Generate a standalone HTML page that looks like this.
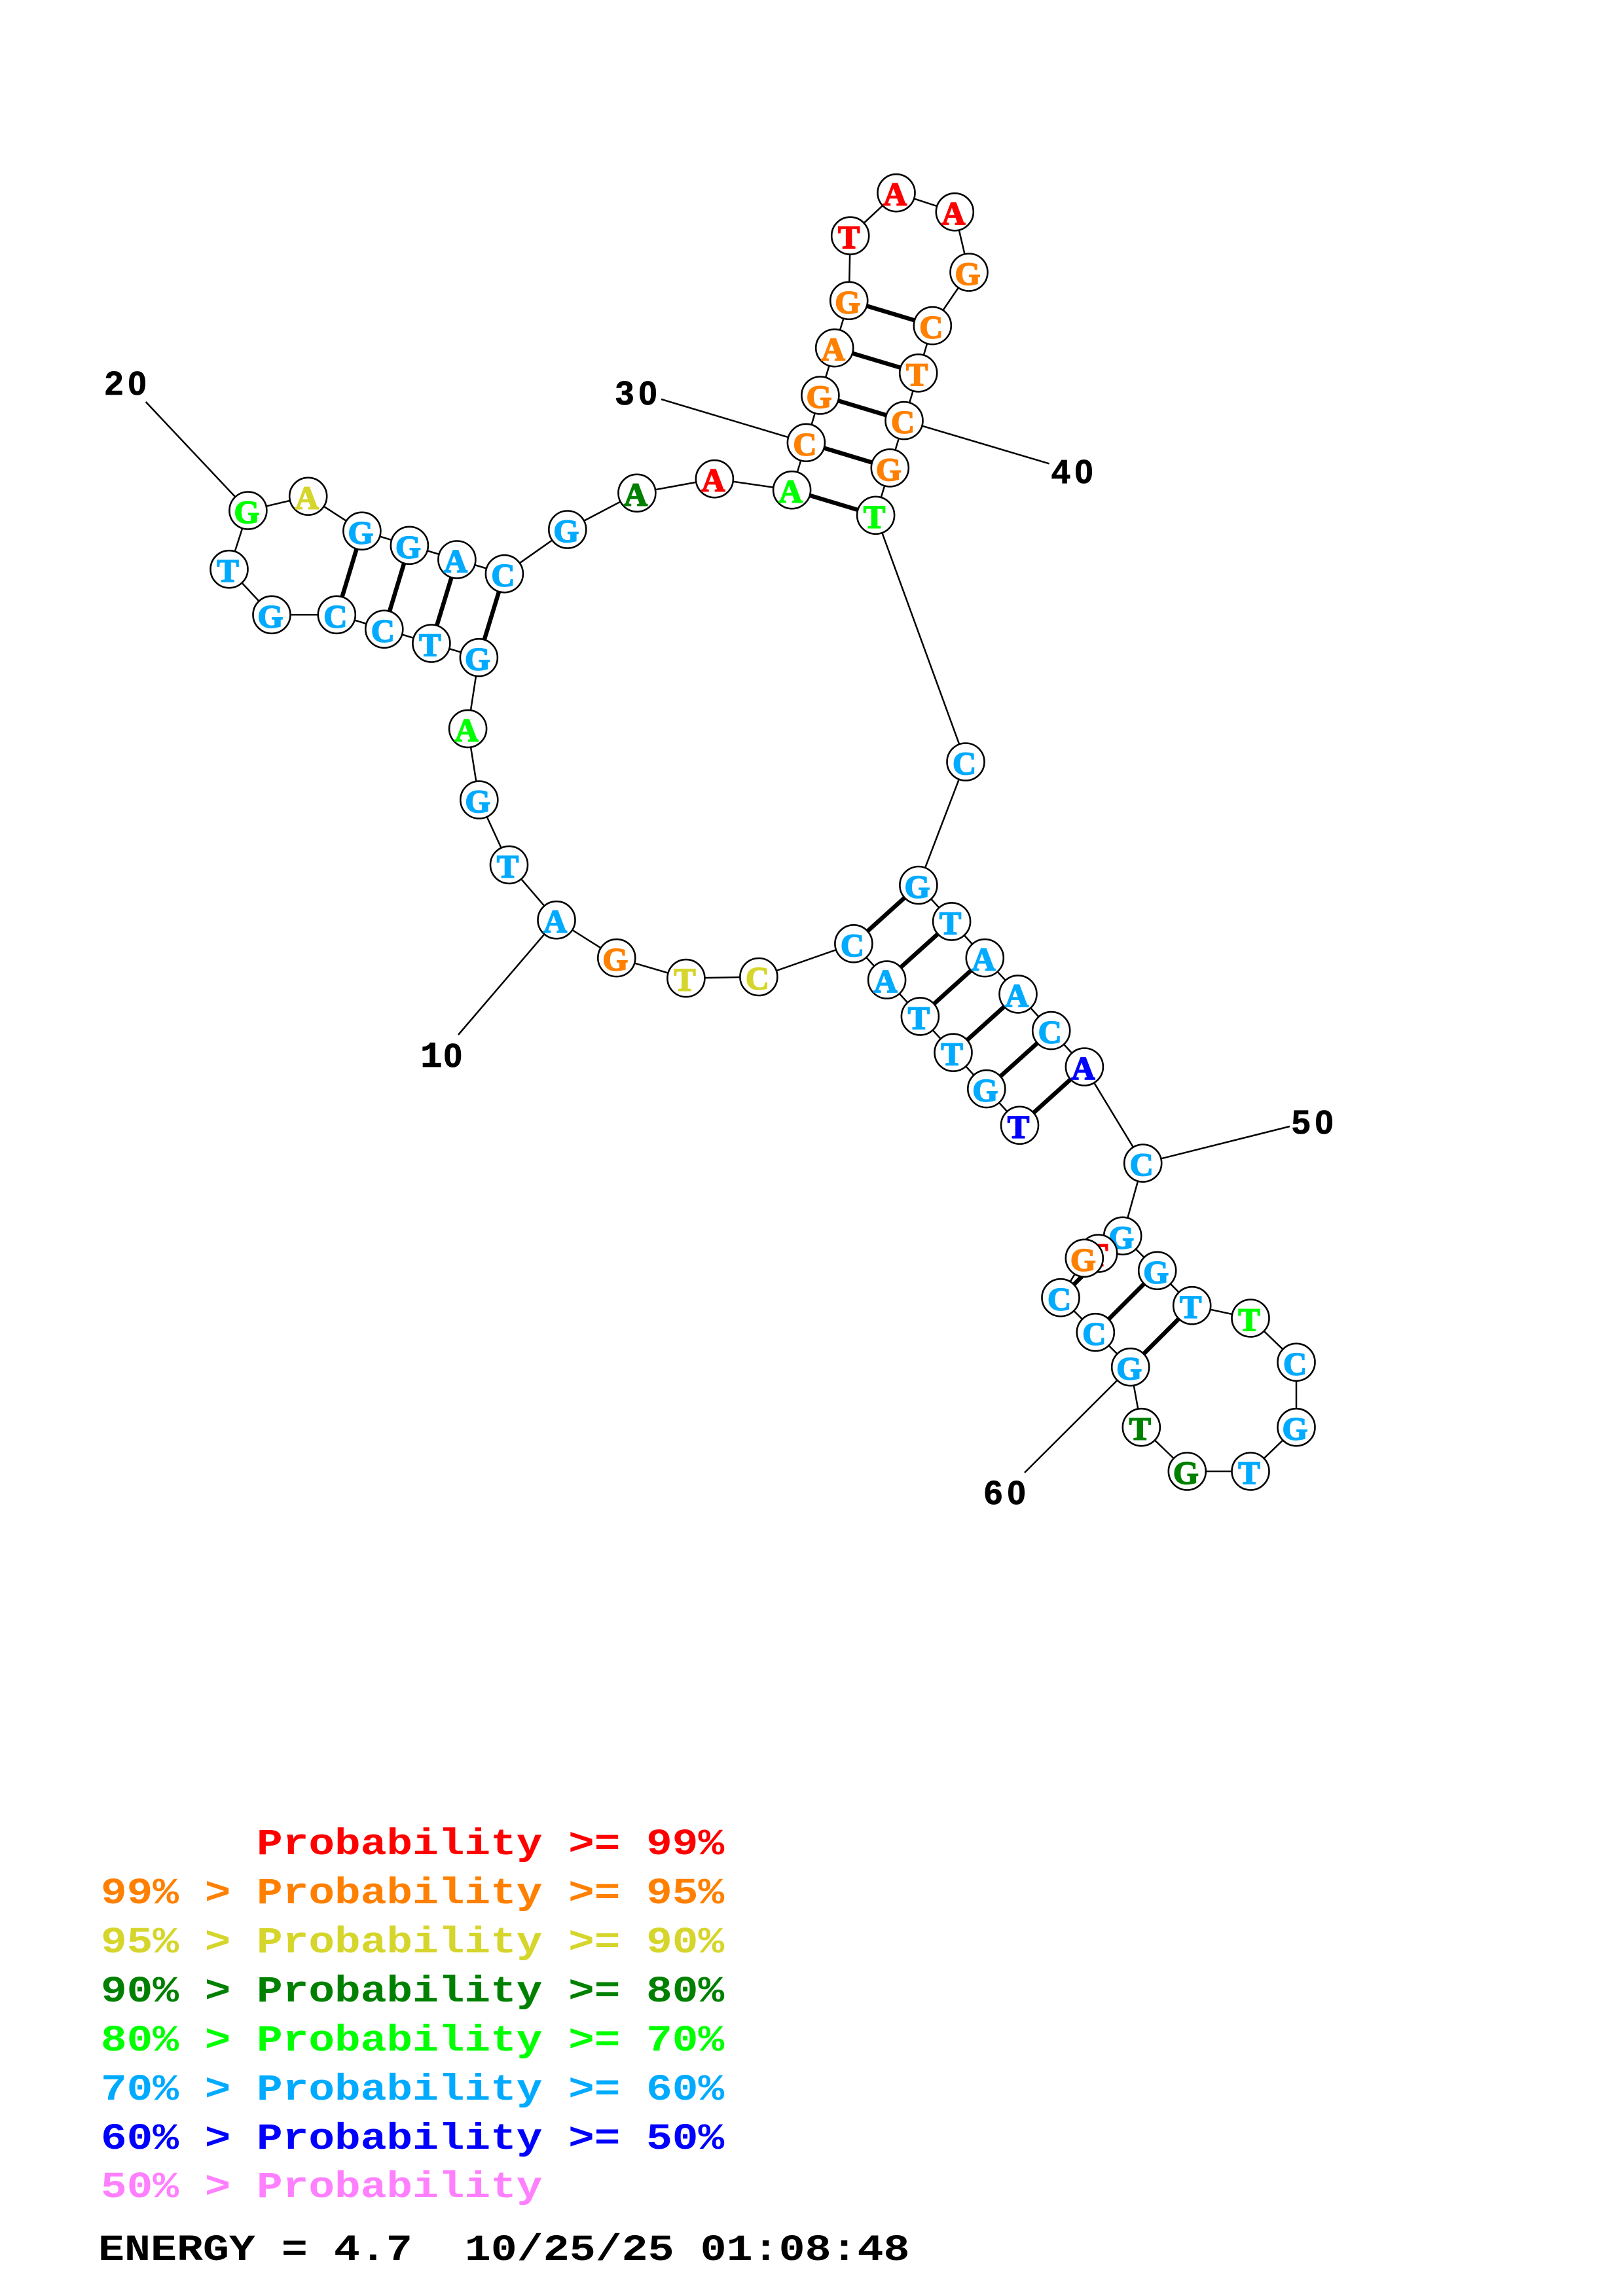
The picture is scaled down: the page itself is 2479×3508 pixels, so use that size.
<!DOCTYPE html>
<html><head><meta charset="utf-8"><style>
html,body{margin:0;padding:0;background:#fff}
svg{display:block}
.n circle{fill:#fff;stroke:#000;stroke-width:2.6}
.n text{font-family:"Liberation Serif",serif;font-weight:bold;font-size:50px;text-anchor:middle;stroke-width:1.8;paint-order:stroke}
.lb{fill:#00aaff;stroke:#00aaff}.or{fill:#ff8000;stroke:#ff8000}.re{fill:#f00;stroke:#f00}.ye{fill:#d5d52b;stroke:#d5d52b}.dk{fill:#008000;stroke:#008000}.gr{fill:#0f0;stroke:#0f0}.bl{fill:#00f;stroke:#00f}
.l{font-family:"Liberation Sans",sans-serif;font-weight:bold;font-size:51px;letter-spacing:7px;fill:#000;stroke:#000;stroke-width:.8}
.m{font-family:"Liberation Mono",monospace;font-weight:bold;font-size:57px}
</style></head><body>
<svg xmlns="http://www.w3.org/2000/svg" width="2479" height="3508" viewBox="0 0 2479 3508">
<rect width="2479" height="3508" fill="#fff"/>
<g stroke="#000" stroke-width="2.5" fill="none">
<polyline points="1557.5,1719.3 1506.8,1663.6 1456,1608.2 1405.4,1552.9 1354.6,1497.1 1303.9,1441.8 1158.9,1492.5 1047.9,1494.6 941.8,1463.6 850,1405.7 777.5,1321.4 731.8,1222.1 714.6,1113.4 731.4,1004.7 658.9,983 586.8,961.3 514.3,939.3 415,939.3 350,869.7 378.9,780 470.7,758.3 552.9,811.3 625.4,833.3 697.9,855 770.4,876.7 866.8,809 972.9,753.3 1091.4,731.7 1209.6,748.7 1231.4,676.3 1252.9,604 1274.7,531.6 1296.7,459.3 1298.7,360.2 1369,294.7 1458.3,323.8 1480,416 1424.3,497.6 1402.7,569.9 1381,642.6 1359.3,714.9 1337.6,787.3 1475,1164 1402.9,1352.5 1453.6,1407.9 1504.3,1463.6 1555,1518.9 1605.7,1574.6 1656.4,1630 1745.7,1777.2 1714.7,1888.3 1767.7,1941.3 1820.7,1994.7 1910,2014 1980,2081.3 1980,2180.7 1910,2248 1813.3,2248 1743.3,2180.7 1726.7,2088.7 1673.3,2035.7 1620,1982.7 1656.3,1922.3 1677.7,1915"/>
<line x1="850" y1="1405.7" x2="700" y2="1581"/>
<line x1="378.9" y1="780" x2="222.7" y2="614"/>
<line x1="1231.4" y1="676.3" x2="1010" y2="610"/>
<line x1="1381" y1="642.6" x2="1602.7" y2="708.4"/>
<line x1="1745.7" y1="1777.2" x2="1970" y2="1721"/>
<line x1="1726.7" y1="2088.7" x2="1565" y2="2250"/>
</g>
<g stroke="#000" stroke-width="6.5">
<line x1="1557.5" y1="1719.3" x2="1656.4" y2="1630"/>
<line x1="1506.8" y1="1663.6" x2="1605.7" y2="1574.6"/>
<line x1="1456" y1="1608.2" x2="1555" y2="1518.9"/>
<line x1="1405.4" y1="1552.9" x2="1504.3" y2="1463.6"/>
<line x1="1354.6" y1="1497.1" x2="1453.6" y2="1407.9"/>
<line x1="1303.9" y1="1441.8" x2="1402.9" y2="1352.5"/>
<line x1="731.4" y1="1004.7" x2="770.4" y2="876.7"/>
<line x1="658.9" y1="983" x2="697.9" y2="855"/>
<line x1="586.8" y1="961.3" x2="625.4" y2="833.3"/>
<line x1="514.3" y1="939.3" x2="552.9" y2="811.3"/>
<line x1="1209.6" y1="748.7" x2="1337.6" y2="787.3"/>
<line x1="1231.4" y1="676.3" x2="1359.3" y2="714.9"/>
<line x1="1252.9" y1="604" x2="1381" y2="642.6"/>
<line x1="1274.7" y1="531.6" x2="1402.7" y2="569.9"/>
<line x1="1296.7" y1="459.3" x2="1424.3" y2="497.6"/>
<line x1="1714.7" y1="1888.3" x2="1620" y2="1982.7"/>
<line x1="1767.7" y1="1941.3" x2="1673.3" y2="2035.7"/>
<line x1="1820.7" y1="1994.7" x2="1726.7" y2="2088.7"/>
</g>
<g class="n">
<circle cx="1557.5" cy="1719.3" r="28.5"/><text x="1555.5" y="1738.3" class="bl">T</text>
<circle cx="1506.8" cy="1663.6" r="28.5"/><text x="1504.8" y="1682.6" class="lb">G</text>
<circle cx="1456" cy="1608.2" r="28.5"/><text x="1454" y="1627.2" class="lb">T</text>
<circle cx="1405.4" cy="1552.9" r="28.5"/><text x="1403.4" y="1571.9" class="lb">T</text>
<circle cx="1354.6" cy="1497.1" r="28.5"/><text x="1352.6" y="1516.1" class="lb">A</text>
<circle cx="1303.9" cy="1441.8" r="28.5"/><text x="1301.9" y="1460.8" class="lb">C</text>
<circle cx="1158.9" cy="1492.5" r="28.5"/><text x="1156.9" y="1511.5" class="ye">C</text>
<circle cx="1047.9" cy="1494.6" r="28.5"/><text x="1045.9" y="1513.6" class="ye">T</text>
<circle cx="941.8" cy="1463.6" r="28.5"/><text x="939.8" y="1482.6" class="or">G</text>
<circle cx="850" cy="1405.7" r="28.5"/><text x="848" y="1424.7" class="lb">A</text>
<circle cx="777.5" cy="1321.4" r="28.5"/><text x="775.5" y="1340.4" class="lb">T</text>
<circle cx="731.8" cy="1222.1" r="28.5"/><text x="729.8" y="1241.1" class="lb">G</text>
<circle cx="714.6" cy="1113.4" r="28.5"/><text x="712.6" y="1132.4" class="gr">A</text>
<circle cx="731.4" cy="1004.7" r="28.5"/><text x="729.4" y="1023.7" class="lb">G</text>
<circle cx="658.9" cy="983" r="28.5"/><text x="656.9" y="1002" class="lb">T</text>
<circle cx="586.8" cy="961.3" r="28.5"/><text x="584.8" y="980.3" class="lb">C</text>
<circle cx="514.3" cy="939.3" r="28.5"/><text x="512.3" y="958.3" class="lb">C</text>
<circle cx="415" cy="939.3" r="28.5"/><text x="413" y="958.3" class="lb">G</text>
<circle cx="350" cy="869.7" r="28.5"/><text x="348" y="888.7" class="lb">T</text>
<circle cx="378.9" cy="780" r="28.5"/><text x="376.9" y="799" class="gr">G</text>
<circle cx="470.7" cy="758.3" r="28.5"/><text x="468.7" y="777.3" class="ye">A</text>
<circle cx="552.9" cy="811.3" r="28.5"/><text x="550.9" y="830.3" class="lb">G</text>
<circle cx="625.4" cy="833.3" r="28.5"/><text x="623.4" y="852.3" class="lb">G</text>
<circle cx="697.9" cy="855" r="28.5"/><text x="695.9" y="874" class="lb">A</text>
<circle cx="770.4" cy="876.7" r="28.5"/><text x="768.4" y="895.7" class="lb">C</text>
<circle cx="866.8" cy="809" r="28.5"/><text x="864.8" y="828" class="lb">G</text>
<circle cx="972.9" cy="753.3" r="28.5"/><text x="970.9" y="772.3" class="dk">A</text>
<circle cx="1091.4" cy="731.7" r="28.5"/><text x="1089.4" y="750.7" class="re">A</text>
<circle cx="1209.6" cy="748.7" r="28.5"/><text x="1207.6" y="767.7" class="gr">A</text>
<circle cx="1231.4" cy="676.3" r="28.5"/><text x="1229.4" y="695.3" class="or">C</text>
<circle cx="1252.9" cy="604" r="28.5"/><text x="1250.9" y="623" class="or">G</text>
<circle cx="1274.7" cy="531.6" r="28.5"/><text x="1272.7" y="550.6" class="or">A</text>
<circle cx="1296.7" cy="459.3" r="28.5"/><text x="1294.7" y="478.3" class="or">G</text>
<circle cx="1298.7" cy="360.2" r="28.5"/><text x="1296.7" y="379.2" class="re">T</text>
<circle cx="1369" cy="294.7" r="28.5"/><text x="1367" y="313.7" class="re">A</text>
<circle cx="1458.3" cy="323.8" r="28.5"/><text x="1456.3" y="342.8" class="re">A</text>
<circle cx="1480" cy="416" r="28.5"/><text x="1478" y="435" class="or">G</text>
<circle cx="1424.3" cy="497.6" r="28.5"/><text x="1422.3" y="516.6" class="or">C</text>
<circle cx="1402.7" cy="569.9" r="28.5"/><text x="1400.7" y="588.9" class="or">T</text>
<circle cx="1381" cy="642.6" r="28.5"/><text x="1379" y="661.6" class="or">C</text>
<circle cx="1359.3" cy="714.9" r="28.5"/><text x="1357.3" y="733.9" class="or">G</text>
<circle cx="1337.6" cy="787.3" r="28.5"/><text x="1335.6" y="806.3" class="gr">T</text>
<circle cx="1475" cy="1164" r="28.5"/><text x="1473" y="1183" class="lb">C</text>
<circle cx="1402.9" cy="1352.5" r="28.5"/><text x="1400.9" y="1371.5" class="lb">G</text>
<circle cx="1453.6" cy="1407.9" r="28.5"/><text x="1451.6" y="1426.9" class="lb">T</text>
<circle cx="1504.3" cy="1463.6" r="28.5"/><text x="1502.3" y="1482.6" class="lb">A</text>
<circle cx="1555" cy="1518.9" r="28.5"/><text x="1553" y="1537.9" class="lb">A</text>
<circle cx="1605.7" cy="1574.6" r="28.5"/><text x="1603.7" y="1593.6" class="lb">C</text>
<circle cx="1656.4" cy="1630" r="28.5"/><text x="1654.4" y="1649" class="bl">A</text>
<circle cx="1745.7" cy="1777.2" r="28.5"/><text x="1743.7" y="1796.2" class="lb">C</text>
<circle cx="1714.7" cy="1888.3" r="28.5"/><text x="1712.7" y="1907.3" class="lb">G</text>
<circle cx="1767.7" cy="1941.3" r="28.5"/><text x="1765.7" y="1960.3" class="lb">G</text>
<circle cx="1820.7" cy="1994.7" r="28.5"/><text x="1818.7" y="2013.7" class="lb">T</text>
<circle cx="1910" cy="2014" r="28.5"/><text x="1908" y="2033" class="gr">T</text>
<circle cx="1980" cy="2081.3" r="28.5"/><text x="1978" y="2100.3" class="lb">C</text>
<circle cx="1980" cy="2180.7" r="28.5"/><text x="1978" y="2199.7" class="lb">G</text>
<circle cx="1910" cy="2248" r="28.5"/><text x="1908" y="2267" class="lb">T</text>
<circle cx="1813.3" cy="2248" r="28.5"/><text x="1811.3" y="2267" class="dk">G</text>
<circle cx="1743.3" cy="2180.7" r="28.5"/><text x="1741.3" y="2199.7" class="dk">T</text>
<circle cx="1726.7" cy="2088.7" r="28.5"/><text x="1724.7" y="2107.7" class="lb">G</text>
<circle cx="1673.3" cy="2035.7" r="28.5"/><text x="1671.3" y="2054.7" class="lb">C</text>
<circle cx="1620" cy="1982.7" r="28.5"/><text x="1618" y="2001.7" class="lb">C</text>
<circle cx="1677.7" cy="1915" r="28.5"/><text x="1675.7" y="1934" class="re">T</text>
<circle cx="1656.3" cy="1922.3" r="28.5"/><text x="1654.3" y="1941.3" class="or">G</text>
</g>
<text class="l" x="160" y="603">20</text>
<text class="l" x="642" y="1630"><tspan style="font-family:'Liberation Mono',monospace;font-size:56px;letter-spacing:2px">1</tspan>0</text>
<text class="l" x="940" y="618">30</text>
<text class="l" x="1606" y="738">40</text>
<text class="l" x="1973" y="1732">50</text>
<text class="l" x="1503" y="2298">60</text>
<g class="m">
<text transform="translate(154,2833) scale(1.16,1)" fill="#f00">&#160;&#160;&#160;&#160;&#160;&#160;Probability &gt;= 99%</text>
<text transform="translate(154,2908) scale(1.16,1)" fill="#ff8000">99% &gt; Probability &gt;= 95%</text>
<text transform="translate(154,2983) scale(1.16,1)" fill="#d5d52b">95% &gt; Probability &gt;= 90%</text>
<text transform="translate(154,3058) scale(1.16,1)" fill="#008000">90% &gt; Probability &gt;= 80%</text>
<text transform="translate(154,3133) scale(1.16,1)" fill="#0f0">80% &gt; Probability &gt;= 70%</text>
<text transform="translate(154,3208) scale(1.16,1)" fill="#00aaff">70% &gt; Probability &gt;= 60%</text>
<text transform="translate(154,3283) scale(1.16,1)" fill="#00f">60% &gt; Probability &gt;= 50%</text>
<text transform="translate(154,3357) scale(1.16,1)" fill="#ff80ff">50% &gt; Probability</text>
<text transform="translate(150,3453) scale(1.169,1)" fill="#000">ENERGY = 4.7&#160;&#160;10/25/25 01:08:48</text>
</g>
</svg>
</body></html>
